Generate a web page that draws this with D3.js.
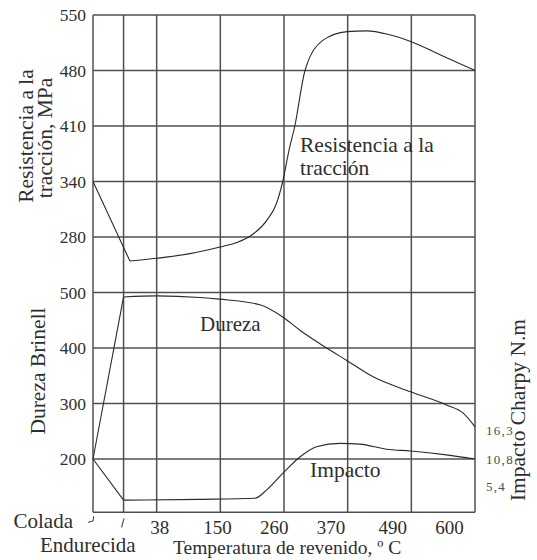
<!DOCTYPE html>
<html><head><meta charset="utf-8">
<script src="https://cdn.jsdelivr.net/npm/d3@7"></script>
<style>
body{margin:0;background:#fff}
text{font-family:"Liberation Serif","Times New Roman",serif;fill:#2e2e2e}
</style>
</head><body>
<svg id="c" width="537" height="560"></svg>
<script>
// ---- data ----
const xCategories = ["Colada", "Endurecida", "38", "150", "260", "370", "490", "600"];
const xCategoryPos = [-1, -0.52, 0, 1, 2, 3, 4, 5];          // axis column units
const tempTicks = [38, 150, 260, 370, 490, 600];
const tensileTicks = [550, 480, 410, 340, 280];
const durezaTicks = [500, 400, 300, 200];
const impactTicks = [16.3, 10.8, 5.4];
const impactTickLabels = ["16,3", "10,8", "5,4"];

const tensileX = [-1, -0.42, 0, 0.52, 0.98, 1.26, 1.47, 1.73, 1.88, 1.98, 2.08, 2.17, 2.33, 2.61, 2.99, 3.30, 3.66, 3.98, 4.45, 5];
const tensileV = [340, 254, 257, 262, 269, 274, 281, 298, 316, 340, 380, 410, 480, 518, 529, 530, 525, 517, 500, 480];

const durezaX = [-1, -0.52, 0, 0.68, 0.98, 1.62, 1.98, 2.25, 2.67, 2.98, 3.40, 3.99, 4.56, 4.81, 5];
const durezaV = [200, 492, 494, 491, 488, 478, 456, 432, 400, 378, 348, 321, 297, 283, 258];

const impactX = [-1, -0.52, 0.68, 1.54, 1.73, 1.98, 2.25, 2.51, 2.88, 3.19, 3.61, 3.99, 4.55, 5];
const impactV = [10.8, 2.8, 2.95, 3.15, 4.8, 8.0, 11.2, 13.2, 13.85, 13.7, 12.7, 12.35, 11.6, 10.8];

// ---- scales ----
const svg = d3.select("#c");
const xScale = d3.scaleLinear().domain([-1, 5]).range([93, 475]);
const rowY = d3.scaleLinear().domain([0, 8]).range([15, 459]);
const bottomRow = 8.96;
const tensileRow = d3.scaleLinear().domain(tensileTicks).range([0, 1, 2, 3, 4]);
const durezaRow = d3.scaleLinear().domain([500, 200]).range([5, 8]);
const impactRow = d3.scaleLinear().domain([0, 10.8]).range([9, 8]);
const yT = v => rowY(tensileRow(v));
const yD = v => rowY(durezaRow(v));
const yI = v => rowY(impactRow(v));
const tempLabelX = d3.scaleLinear().domain([38, 600]).range([xScale(0.05), xScale(4.6)]);

const gridColor = "#505050";
const x0 = xScale(-1), x1 = xScale(5), yTop = rowY(0), yBot = rowY(bottomRow);

// ---- grid ----
const grid = svg.append("g").attr("stroke", gridColor).attr("stroke-width", 1.5);
const rows = d3.range(0, 9).concat([bottomRow]);
grid.selectAll("line.h").data(rows).join("line")
  .attr("x1", x0).attr("x2", x1).attr("y1", d => rowY(d)).attr("y2", d => rowY(d));
grid.selectAll("line.v").data(xCategoryPos).join("line")
  .attr("x1", d => xScale(d)).attr("x2", d => xScale(d)).attr("y1", yTop).attr("y2", yBot);

// ---- curves ----
function drawSeries(xs, vs, yFn) {
  const pts = xs.map((x, i) => [xScale(x), yFn(vs[i])]);
  const d = d3.line()(pts.slice(0, 2)) + d3.line().curve(d3.curveMonotoneX)(pts.slice(1));
  svg.append("path").attr("d", d).attr("fill", "none").attr("stroke", "#2a2a2a").attr("stroke-width", 1.1);
}
drawSeries(tensileX, tensileV, yT);
drawSeries(durezaX, durezaV, yD);
drawSeries(impactX, impactV, yI);

// ---- tick labels ----
svg.selectAll("text.tt").data(tensileTicks).join("text")
  .attr("x", x0 - 7).attr("y", d => yT(d)).attr("dy", "0.35em")
  .attr("text-anchor", "end").attr("font-size", 17.5).text(d => d);
svg.selectAll("text.dt").data(durezaTicks).join("text")
  .attr("x", x0 - 7).attr("y", d => yD(d)).attr("dy", "0.35em")
  .attr("text-anchor", "end").attr("font-size", 17.5).text(d => d);
svg.selectAll("text.it").data(impactTicks).join("text")
  .attr("x", x1 + 11).attr("y", d => yI(d)).attr("dy", "0.35em")
  .attr("font-size", 13).attr("letter-spacing", 1.3).style("fill", "#4a4a4a")
  .text((d, i) => impactTickLabels[i]);
svg.selectAll("text.xt").data(tempTicks).join("text")
  .attr("x", d => tempLabelX(d)).attr("y", 534)
  .attr("text-anchor", "middle").attr("font-size", 19).text(d => d);

// Colada / Endurecida labels and marks
svg.append("text").attr("x", 73).attr("y", 528).attr("text-anchor", "end").attr("font-size", 21).text(xCategories[0]);
svg.append("text").attr("x", 40).attr("y", 552).attr("font-size", 21).text(xCategories[1]);
svg.append("path").attr("d", `M${x0 - 5},${yBot + 10} L${x0 - 1},${yBot + 9} Q${x0 + 0.5},${yBot + 8.5} ${x0 + 0.5},${yBot + 6} L${x0 + 0.5},${yBot + 4}`)
  .attr("fill", "none").attr("stroke", "#444").attr("stroke-width", 1.1);
const xe = xScale(xCategoryPos[1]);
svg.append("line").attr("x1", xe - 2).attr("y1", yBot + 15).attr("x2", xe + 0.5).attr("y2", yBot + 6)
  .attr("stroke", "#444").attr("stroke-width", 1.1);

// ---- axis titles ----
function vtext(x, y, s, size) {
  svg.append("text").attr("transform", `translate(${x},${y}) rotate(-90)`)
    .attr("text-anchor", "middle").attr("font-size", size).text(s);
}
vtext(33, 136, "Resistencia a la", 21.5);
vtext(52, 138, "tracción, MPa", 21.5);
vtext(45, 371, "Dureza Brinell", 21.5);
vtext(525, 410, "Impacto Charpy N.m", 21.5);
svg.append("text").attr("x", 173).attr("y", 554).attr("font-size", 19.5).text("Temperatura de revenido, º C");

// ---- inline series labels ----
svg.append("text").attr("x", 300).attr("y", 152).attr("font-size", 21.5).text("Resistencia a la");
svg.append("text").attr("x", 300).attr("y", 175).attr("font-size", 21.5).text("tracción");
svg.append("text").attr("x", 200).attr("y", 331).attr("font-size", 21).text("Dureza");
svg.append("text").attr("x", 310).attr("y", 477).attr("font-size", 21.5).text("Impacto");
</script>
</body></html>
